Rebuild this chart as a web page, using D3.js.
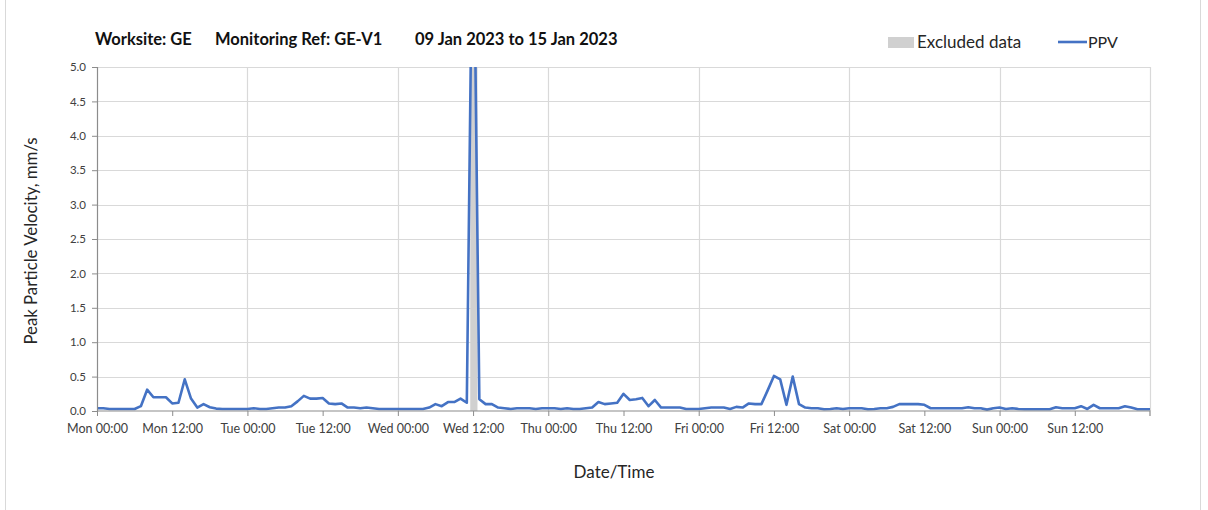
<!DOCTYPE html>
<html><head><meta charset="utf-8">
<script src="https://cdn.jsdelivr.net/npm/d3@7"></script>
<style>
body{margin:0;background:#fff;}
svg{display:block;font-family:Lato,"Open Sans",sans-serif;}
</style>
</head><body>
<svg id="chart" width="1208" height="510"></svg>
<script>
// ---- data ----
const tickLabels = ["Mon 00:00","Mon 12:00","Tue 00:00","Tue 12:00","Wed 00:00","Wed 12:00","Thu 00:00",
  "Thu 12:00","Fri 00:00","Fri 12:00","Sat 00:00","Sat 12:00","Sun 00:00","Sun 12:00"];
const yTicks = [0,0.5,1,1.5,2,2.5,3,3.5,4,4.5,5];
// hourly PPV readings (mm/s), Mon 00:00 .. next Mon 00:00
const ppv = [
  0.04,0.04,0.03,0.03,0.03,0.03,0.03,0.07,0.31,0.2,0.2,0.2,0.11,0.12,0.46,0.18,0.05,0.1,0.055,0.035,0.03,0.03,0.03,0.03,
  0.03,0.04,0.03,0.03,0.04,0.05,0.05,0.07,0.14,0.22,0.18,0.18,0.19,0.11,0.1,0.11,0.05,0.05,0.04,0.05,0.04,0.03,0.03,0.03,
  0.03,0.03,0.03,0.03,0.03,0.05,0.1,0.07,0.13,0.13,0.18,0.12,8.0,0.17,0.1,0.1,0.05,0.04,0.03,0.04,0.04,0.04,0.03,0.04,
  0.04,0.04,0.03,0.04,0.03,0.03,0.04,0.05,0.13,0.1,0.11,0.12,0.25,0.16,0.17,0.19,0.07,0.16,0.05,0.05,0.05,0.05,0.03,0.03,
  0.03,0.04,0.05,0.05,0.05,0.03,0.06,0.05,0.11,0.1,0.1,0.3,0.51,0.46,0.09,0.5,0.1,0.05,0.04,0.04,0.025,0.03,0.04,0.03,
  0.04,0.04,0.04,0.025,0.03,0.04,0.04,0.06,0.1,0.1,0.1,0.1,0.09,0.04,0.04,0.04,0.04,0.04,0.04,0.055,0.04,0.04,0.02,0.04,
  0.05,0.03,0.04,0.03,0.025,0.025,0.025,0.025,0.025,0.055,0.04,0.04,0.04,0.07,0.03,0.09,0.04,0.04,0.04,0.04,0.07,0.05,
  0.025,0.025,0.025
];
const excluded = [[59.55, 60.7]];
const titleParts = ["Worksite: GE", "Monitoring Ref: GE-V1", "09 Jan 2023 to 15 Jan 2023"];
const legendItems = ["Excluded data", "PPV"];

// ---- layout ----
const svg = d3.select("#chart");
const L = 97, R = 1150, T = 67, B = 411;
const x = d3.scaleLinear().domain([0, 168]).range([L, R]);
const y = d3.scaleLinear().domain([0, 5]).range([B, T]);

// outer frame
svg.append("line").attr("x1",5.5).attr("x2",5.5).attr("y1",0).attr("y2",510).attr("stroke","#d9d9d9");
svg.append("line").attr("x1",1200.5).attr("x2",1200.5).attr("y1",0).attr("y2",510).attr("stroke","#d9d9d9");

// gridlines
svg.append("g").selectAll("line").data(yTicks.filter(d=>d>0)).join("line")
  .attr("x1",L).attr("x2",R).attr("y1",d=>Math.round(y(d))+0.5).attr("y2",d=>Math.round(y(d))+0.5)
  .attr("stroke","#d9d9d9").attr("stroke-width",1.2);
svg.append("g").selectAll("line").data(d3.range(24,169,24)).join("line")
  .attr("x1",d=>Math.round(x(d))+0.5).attr("x2",d=>Math.round(x(d))+0.5).attr("y1",T).attr("y2",B)
  .attr("stroke","#d9d9d9").attr("stroke-width",1.2);

// excluded data
svg.append("g").selectAll("rect").data(excluded).join("rect")
  .attr("x",d=>x(d[0])).attr("width",d=>x(d[1])-x(d[0])).attr("y",T).attr("height",B-T)
  .attr("fill","#d0d0d0");

// line
svg.append("clipPath").attr("id","clip").append("rect").attr("x",L).attr("y",T).attr("width",R-L).attr("height",B-T+2);
svg.append("path").datum(ppv).attr("clip-path","url(#clip)")
  .attr("fill","none").attr("stroke","#4472c4").attr("stroke-width",2.6).attr("stroke-linejoin","round")
  .attr("d", d3.line().x((d,i)=>x(i)).y(d=>y(d)));

// axes
const yAxis = svg.append("g").attr("transform",`translate(${L},0)`)
  .call(d3.axisLeft(y).tickValues(yTicks).tickFormat(d3.format(".1f")).tickSize(5).tickPadding(6));
const xAxis = svg.append("g").attr("transform",`translate(0,${B})`)
  .call(d3.axisBottom(x).tickValues(d3.range(0,168,12)).tickFormat((d,i)=>tickLabels[i]).tickSize(5).tickPadding(8));
[yAxis,xAxis].forEach(g=>{
  g.select(".domain").attr("stroke","#8c8c8c").attr("stroke-width",1.2);
  g.selectAll(".tick line").attr("stroke","#8c8c8c");
  g.selectAll("text").attr("fill","#404040").style("font-family","Lato, sans-serif");
});
yAxis.selectAll("text").style("font-size","11.5px");
xAxis.selectAll("text").style("font-size","12.5px");
xAxis.select(".domain").attr("d",`M${L},0H${R}V5`);

// axis titles
svg.append("text").attr("transform","translate(37,241) rotate(-90)").attr("text-anchor","middle")
  .attr("fill","#262626").style("font-size","16.8px").text("Peak Particle Velocity, mm/s");
svg.append("text").attr("x",614).attr("y",478).attr("text-anchor","middle")
  .attr("fill","#262626").style("font-size","17px").text("Date/Time");

// title
const tx = [95, 215, 415];
svg.append("g").selectAll("text").data(titleParts).join("text")
  .attr("x",(d,i)=>tx[i]).attr("y",45).attr("fill","#111")
  .style("font-size","16.5px").style("font-weight","bold").text(d=>d);

// legend
svg.append("rect").attr("x",888).attr("y",37).attr("width",26).attr("height",11).attr("fill","#d0d0d0");
svg.append("text").attr("x",917).attr("y",48).attr("fill","#262626").style("font-size","17px").text(legendItems[0]);
svg.append("line").attr("x1",1058).attr("x2",1087).attr("y1",42).attr("y2",42).attr("stroke","#4472c4").attr("stroke-width",2.6);
svg.append("text").attr("x",1088).attr("y",48).attr("fill","#262626").style("font-size","16px").text(legendItems[1]);
</script>
</body></html>
